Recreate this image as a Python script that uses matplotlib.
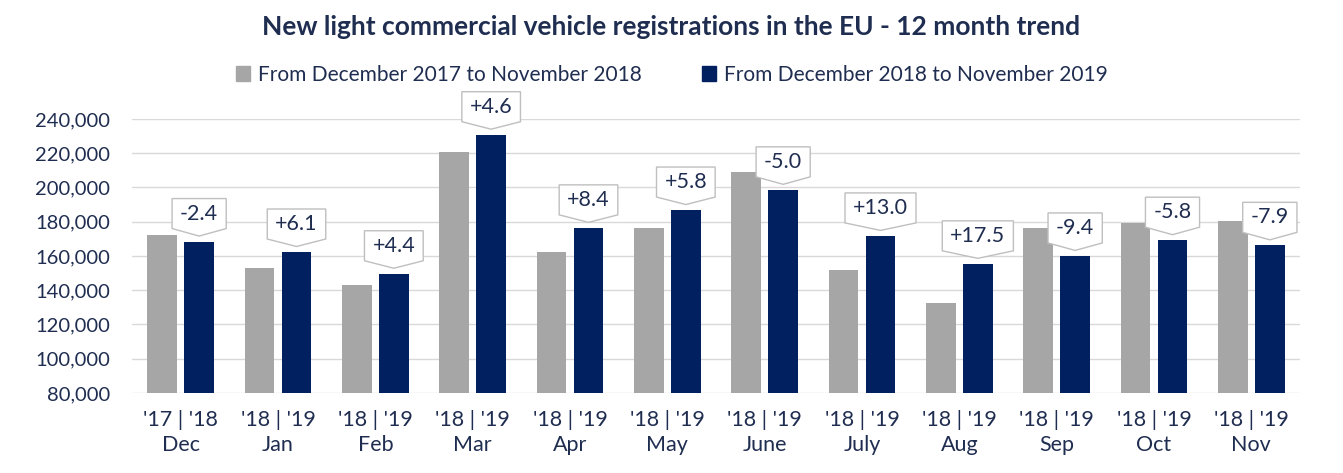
import matplotlib
matplotlib.use("Agg")
import matplotlib.pyplot as plt
from matplotlib.path import Path
from matplotlib.patches import Patch
import numpy as np

# data
months = ["Dec", "Jan", "Feb", "Mar", "Apr", "May", "June", "July", "Aug", "Sep", "Oct", "Nov"]
years = ["'17 | '18", "'18 | '19", "'18 | '19", "'18 | '19", "'18 | '19", "'18 | '19",
         "'18 | '19", "'18 | '19", "'18 | '19", "'18 | '19", "'18 | '19", "'18 | '19"]
prev_period = [172000, 152800, 143300, 220800, 162500, 176500, 208900, 151900, 132400, 176400, 179500, 180300]
curr_period = [168400, 162300, 149600, 230800, 176400, 186800, 198600, 171700, 155400, 160000, 169200, 166200]
pct_change = ["-2.4", "+6.1", "+4.4", "+4.6", "+8.4", "+5.8", "-5.0", "+13.0", "+17.5", "-9.4", "-5.8", "-7.9"]
legend_labels = ["From December 2017 to November 2018", "From December 2018 to November 2019"]

GREY = "#A6A6A6"
NAVY = "#002060"
TEXT = "#1F2D50"
GRID = "#D9D9D9"

plt.rcParams["font.family"] = ["Lato", "DejaVu Sans"]


def callout(x0, y0, width, height, mutation_size):
    """ box with a pointed bottom, like the Excel data callouts
    """
    padx, pady, tip = 8, 5, 7.5
    l, r = x0 - padx, x0 + width + padx
    b, t = y0 - pady, y0 + height + pady
    cx = (l + r) / 2
    verts = [(l, b), (l, t), (r, t), (r, b), (cx, b - tip), (l, b), (l, b)]
    codes = [Path.MOVETO] + [Path.LINETO] * 5 + [Path.CLOSEPOLY]
    return Path(verts, codes)


fig = plt.figure(figsize=(13.43, 4.73), dpi=100)
ax = fig.add_axes([132 / 1343, 80 / 473, 1168 / 1343, 274 / 473])

x = np.arange(len(months))
w = 0.305
ax.bar(x - 0.19, prev_period, width=w, color=GREY, zorder=2)
ax.bar(x + 0.19, curr_period, width=w, color=NAVY, zorder=2)

for xi, v, s in zip(x, curr_period, pct_change):
    ax.annotate(s, xy=(xi + 0.19, v), xytext=(0, 13), textcoords="offset points",
                ha="center", va="bottom", fontsize=15.5, color=TEXT, zorder=5,
                bbox=dict(boxstyle=callout, fc="white", ec="#BFBFBF", lw=1))

ax.set_xlim(-0.5, 11.5)
ax.set_ylim(80000, 240000)
ax.set_yticks(np.arange(80000, 240001, 20000))
ax.yaxis.set_major_formatter(matplotlib.ticker.FuncFormatter(lambda v, p: f"{int(v):,}"))
ax.set_xticks(x)
ax.set_xticklabels([f"{y}\n{m}" for y, m in zip(years, months)], linespacing=1.35)
ax.tick_params(axis="both", length=0, labelcolor=TEXT)
ax.tick_params(axis="y", pad=16, labelsize=14.5)
ax.tick_params(axis="x", pad=12, labelsize=15.5)
ax.grid(axis="y", color=GRID, lw=1, zorder=0)
ax.set_axisbelow(True)
for sp in ax.spines.values():
    sp.set_visible(False)

fig.text(0.5, 1 - 27 / 473, "New light commercial vehicle registrations in the EU - 12 month trend",
         ha="center", va="center", fontsize=19, fontweight="bold", color=TEXT)

handles = [Patch(color=GREY), Patch(color=NAVY)]
fig.legend(handles, legend_labels, loc="center", bbox_to_anchor=(0.5, 1 - 75 / 473), ncol=2,
           frameon=False, fontsize=15, labelcolor=TEXT, handlelength=0.7, handleheight=0.7,
           handletextpad=0.35, columnspacing=2.9)

fig.savefig("out.png", dpi=100)
